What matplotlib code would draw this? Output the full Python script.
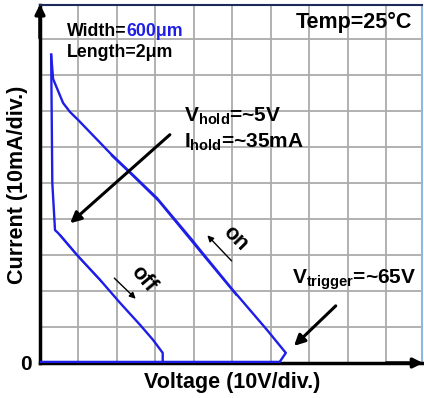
import matplotlib
matplotlib.use("Agg")
import matplotlib.pyplot as plt

plt.rcParams['font.family'] = ['Liberation Sans', 'DejaVu Sans']
plt.rcParams['mathtext.fontset'] = 'custom'
plt.rcParams['mathtext.rm'] = 'Liberation Sans:bold'
plt.rcParams['mathtext.it'] = 'Liberation Sans:bold'
plt.rcParams['mathtext.bf'] = 'Liberation Sans:bold'

# turn-on sweep: up to trigger, then snapback along the load line (V, mA)
on_v = [0, 62.3, 63.9, 59.0, 50.1, 41.6, 39.5, 30.4, 23.4, 18.2, 9.9, 7.8, 6.0, 3.4, 2.9]
on_i = [0.3, 0.3, 2.8, 9.2, 20.3, 31.4, 34.2, 45.8, 53.0, 58.3, 67.5, 69.7, 72.2, 78.9, 85.6]
# second trace lying next to the load line
on2_v = [51.0, 41.9, 30.8, 23.8, 18.6]
on2_i = [18.9, 30.6, 45.0, 52.3, 57.6]
# turn-off sweep
off_v = [2.9, 3.2, 3.9, 4.7, 9.6, 15.6, 20.8, 26.0, 29.4, 31.9, 31.9]
off_i = [85.6, 50.0, 36.9, 36.1, 30.0, 23.1, 16.7, 10.6, 6.4, 2.8, 0.3]
off2_v = [5.3, 10.1, 16.0]
off2_i = [35.5, 29.4, 22.6]

xmax, ymax = 99.3, 99.4
blue = '#1e1ee6'

fig = plt.figure(figsize=(4.24, 3.98), dpi=100)
ax = fig.add_axes([40/424, 35/398, 382/424, 358/398])

ax.plot(on_v, on_i, color=blue, lw=1.7, zorder=3)
ax.plot(on2_v, on2_i, color=blue, lw=1.3, zorder=3)
ax.plot(off_v, off_i, color=blue, lw=1.7, zorder=3)
ax.plot(off2_v, off2_i, color=blue, lw=1.3, zorder=3)

ax.set_xlim(0, xmax)
ax.set_ylim(0, ymax)
ax.set_xticks(range(0, 100, 10))
ax.set_yticks(range(0, 100, 10))
ax.set_xticklabels([])
ax.set_yticklabels(['0'] + [''] * 9, fontsize=15, fontweight='bold')
ax.tick_params(length=0, pad=6)
ax.grid(True, color='#ababab', lw=1.3)
ax.set_axisbelow(True)

ax.spines['left'].set_linewidth(2.5)
ax.spines['bottom'].set_linewidth(2.5)
ax.spines['top'].set_color('#1c2a5c')
ax.spines['top'].set_linewidth(1.5)
ax.spines['right'].set_color('#8fb6e8')
ax.spines['right'].set_linewidth(1.5)

# axis arrows
ax.annotate('', xy=(0, 1.01), xytext=(0, 0.9), xycoords='axes fraction',
            arrowprops=dict(arrowstyle='-|>', color='black', lw=2.5, mutation_scale=14), annotation_clip=False)
ax.annotate('', xy=(1.01, 0), xytext=(0.9, 0), xycoords='axes fraction',
            arrowprops=dict(arrowstyle='-|>', color='black', lw=2.5, mutation_scale=14), annotation_clip=False)

ax.set_xlabel('Voltage (10V/div.)', fontsize=15.5, fontweight='bold')
ax.xaxis.set_label_coords(0.503, -0.025)
ax.xaxis.label.set_va('top')
ax.set_ylabel('Current (10mA/div.)', fontsize=15.5, fontweight='bold')
ax.yaxis.set_label_coords(-0.031, 0.497)

# labels inside the plot
t = ax.text(0.07, 0.927, 'Width=', transform=ax.transAxes, fontsize=12.8, fontweight='bold', va='center')
ax.annotate('600\u03bcm', xycoords=t, xy=(1, 0), va='bottom', fontsize=12.8, fontweight='bold', color=blue)
ax.text(0.07, 0.866, 'Length=2\u03bcm', transform=ax.transAxes, fontsize=12.8, fontweight='bold', va='center')
ax.text(0.974, 0.95, 'Temp=25\u00b0C', transform=ax.transAxes, fontsize=15.5, fontweight='bold', va='center', ha='right')

ax.text(37.5, 68.6, r'V$_{\rm hold}$=~5V', fontsize=15, fontweight='bold', va='center')
ax.text(37.5, 61.4, r'I$_{\rm hold}$=~35mA', fontsize=15, fontweight='bold', va='center')
ax.text(65.5, 23.0, r'V$_{\rm trigger}$=~65V', fontsize=15, fontweight='bold', va='center')

arrow_kw = dict(arrowstyle='-|>', color='black', lw=2.2, mutation_scale=16)
ax.annotate('', xy=(7.3, 38.3), xytext=(34.3, 63.9), arrowprops=arrow_kw)
ax.annotate('', xy=(65.5, 4.2), xytext=(77.4, 16.4), arrowprops=arrow_kw)

thin_kw = dict(arrowstyle='-|>', color='black', lw=1.0, mutation_scale=9)
ax.annotate('', xy=(43.0, 36.0), xytext=(50.3, 27.8), arrowprops=thin_kw)
ax.annotate('', xy=(25.4, 17.3), xytext=(18.8, 24.1), arrowprops=thin_kw)
ax.text(50.9, 34.5, 'on', fontsize=15.5, fontweight='bold', rotation=-45, ha='center', va='center')
ax.text(26.8, 23.3, 'off', fontsize=15.5, fontweight='bold', rotation=-50, ha='center', va='center')

fig.savefig('out.png', dpi=100)
